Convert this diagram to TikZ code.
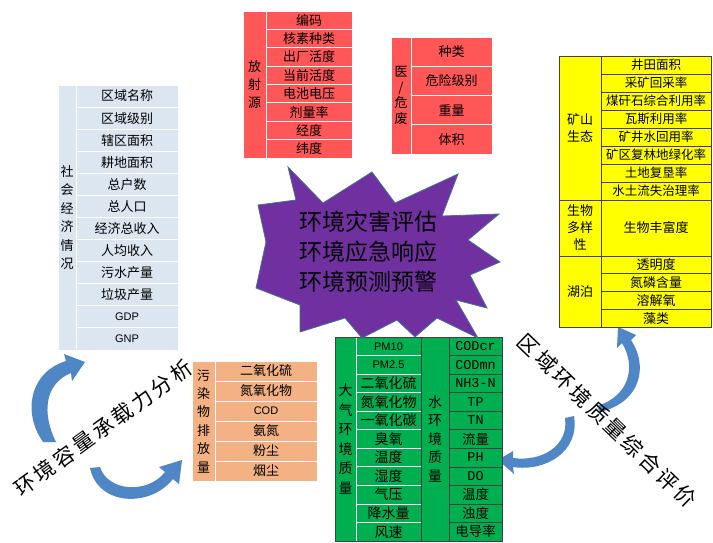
\documentclass[tikz,border=0pt]{standalone}
\usepackage{fontspec}
\setmainfont{Noto Sans CJK SC}
\newfontfamily\latinf{Liberation Sans}
\newfontfamily\monof{Liberation Mono}
\newfontfamily\spacedcjk[LetterSpace=15]{Noto Sans CJK SC}
\definecolor{socfill}{HTML}{DCE6F1}
\definecolor{radfill}{HTML}{FF5757}
\definecolor{minefill}{HTML}{FFFF00}
\definecolor{pollfill}{HTML}{F4B183}
\definecolor{greenfill}{HTML}{00B050}
\definecolor{starfill}{HTML}{7030A0}
\definecolor{starline}{HTML}{41719C}
\definecolor{arrowfill}{HTML}{4F86C6}
\definecolor{gridgray}{HTML}{404040}
\tikzset{
  cell/.style n args={2}{rectangle, anchor=north west, inner sep=0pt, outer sep=0pt,
    minimum width=#1, minimum height=#2, align=center, line width=0.8pt},
  tfont/.style={font=\fontsize{13}{15}\selectfont},
  bluearrow/.style={fill=arrowfill},
  caption/.style={font=\spacedcjk\fontsize{21}{23}\selectfont, inner sep=0pt},
}
\begin{document}
\begin{tikzpicture}[x=1pt,y=-1pt]
\useasboundingbox (0,0) rectangle (713,543);

% ---------- curved arrows ----------
\fill[bluearrow] (43,442) .. controls (22,412) and (30,372) .. (66,361) -- (64,354) -- (85,362) -- (72,381) -- (71,373) .. controls (44,384) and (42,414) .. (56,442) -- cycle;
\fill[bluearrow] (90,468) .. controls (98,506) and (150,508) .. (173,479) -- (179,484) -- (182,460) -- (159,467) -- (165,472) .. controls (148,494) and (108,492) .. (100,467) -- cycle;
\fill[bluearrow] (600,412) .. controls (642,402) and (648,365) .. (631,340) -- (636,335) -- (618,327) -- (617,348) -- (622,343) .. controls (636,366) and (630,396) .. (597,406) -- cycle;
\fill[bluearrow] (574,416) .. controls (580,452) and (545,472) .. (513,467) -- (514,474) -- (498,460) -- (513,451) -- (513,458) .. controls (543,462) and (569,445) .. (565,418) -- cycle;

% ---------- socio-economic table ----------
\node[cell={18pt}{265pt}, fill=socfill, draw=white, font=\fontsize{13}{18.4}\selectfont] (soclabel) at (58,85) {社\\会\\经\\济\\情\\况};
\foreach \txt [count=\i] in {区域名称,区域级别,辖区面积,耕地面积,总户数,总人口,经济总收入,人均收入,污水产量,垃圾产量,{\latinf\fontsize{11}{13}\selectfont GDP},{\latinf\fontsize{11}{13}\selectfont GNP}}
  \node[cell={102pt}{22.08pt}, fill=socfill, draw=white, tfont] (soc\i) at (76,{85+(\i-1)*22.08}) {\txt};

% ---------- radiation source table ----------
\node[cell={23pt}{147pt}, fill=radfill, draw=white, font=\fontsize{13}{18}\selectfont] (radlabel) at (243,11) {放\\射\\源};
\foreach \txt [count=\i] in {编码,核素种类,出厂活度,当前活度,电池电压,剂量率,经度,纬度}
  \node[cell={86pt}{18.375pt}, fill=radfill, draw=white, tfont] (rad\i) at (266,{11+(\i-1)*18.375}) {\txt};

% ---------- medical waste table ----------
\node[cell={20pt}{117pt}, fill=radfill, draw=white, font=\fontsize{13}{15.5}\selectfont] (medlabel) at (391,37) {医\\/\\危\\废};
\foreach \txt [count=\i] in {种类,危险级别,重量,体积}
  \node[cell={81pt}{29.25pt}, fill=radfill, draw=white, tfont] (med\i) at (411,{37+(\i-1)*29.25}) {\txt};

% ---------- mine ecology table ----------
\node[cell={42pt}{144pt}, fill=minefill, draw=gridgray, line width=0.6pt, font=\fontsize{13}{17}\selectfont] (minelabel) at (559,56) {矿山\\生态};
\foreach \txt [count=\i] in {井田面积,采矿回采率,煤矸石综合利用率,瓦斯利用率,矿井水回用率,矿区复林地绿化率,土地复垦率,水土流失治理率}
  \node[cell={110pt}{18pt}, fill=minefill, draw=gridgray, line width=0.6pt, font=\fontsize{12.5}{14}\selectfont] (mine\i) at (601,{56+(\i-1)*18}) {\txt};
\node[cell={42pt}{56pt}, fill=minefill, draw=gridgray, line width=0.6pt, font=\fontsize{13}{17}\selectfont] (biolabel) at (559,200) {生物\\多样\\性};
\node[cell={110pt}{56pt}, fill=minefill, draw=gridgray, line width=0.6pt, tfont] (bio1) at (601,200) {生物丰富度};
\node[cell={42pt}{71pt}, fill=minefill, draw=gridgray, line width=0.6pt, tfont] (lakelabel) at (559,256) {湖泊};
\foreach \txt [count=\i] in {透明度,氮磷含量,溶解氧,藻类}
  \node[cell={110pt}{17.75pt}, fill=minefill, draw=gridgray, line width=0.6pt, tfont] (lake\i) at (601,{256+(\i-1)*17.75}) {\txt};

% ---------- pollutant discharge table ----------
\node[cell={23pt}{120pt}, fill=pollfill, draw=white, font=\fontsize{13}{18.4}\selectfont] (polllabel) at (192,361) {污\\染\\物\\排\\放\\量};
\foreach \txt [count=\i] in {二氧化硫,氮氧化物,{\latinf\fontsize{11}{13}\selectfont COD},氨氮,粉尘,烟尘}
  \node[cell={102pt}{20pt}, fill=pollfill, draw=white, tfont] (poll\i) at (215,{361+(\i-1)*20}) {\txt};

% ---------- air / water table ----------
\node[cell={21pt}{204pt}, fill=greenfill, draw=white, font=\fontsize{14}{19.5}\selectfont] (airlabel) at (335,337) {大\\气\\环\\境\\质\\量};
\foreach \txt [count=\i] in {{\latinf\fontsize{11}{13}\selectfont PM10},{\latinf\fontsize{11}{13}\selectfont PM2.5},二氧化硫,氮氧化物,一氧化碳,臭氧,温度,湿度,气压,降水量,风速}
  \node[cell={65pt}{18.545pt}, fill=greenfill, draw=white, font=\fontsize{14}{16}\selectfont] (air\i) at (356,{337+(\i-1)*18.545}) {\txt};
\node[cell={28pt}{204pt}, fill=greenfill, draw=gridgray, line width=0.6pt, font=\fontsize{14}{18.5}\selectfont] (waterlabel) at (421,337) {水\\环\\境\\质\\量};
\foreach \txt [count=\i] in {{\monof CODcr},{\monof CODmn},{\monof NH3-N},{\monof TP},{\monof TN},流量,{\monof PH},{\monof DO},温度,浊度,电导率}
  \node[cell={53pt}{18.545pt}, fill=greenfill, draw=gridgray, line width=0.6pt, font=\fontsize{13.5}{16}\selectfont] (water\i) at (449,{337+(\i-1)*18.545}) {\txt};
\draw[gridgray, line width=0.6pt] (335,337) rectangle (502,541);

% ---------- central explosion ----------
\filldraw[fill=starfill, draw=starline, line width=0.8pt, line join=miter]
  (288,167) -- (323,203) -- (372,172) -- (395,203) -- (458,174) -- (442,216) -- (499,214) -- (468,240)
  -- (500,262) -- (470,275) -- (487,308) -- (456,300) -- (478,338) -- (437,318) -- (415,337) -- (397,320)
  -- (362,338) -- (345,318) -- (300,332) -- (300,305) -- (256,288) -- (266,242) -- (258,205) -- (296,200) -- cycle;
\node[align=center, font=\fontsize{23}{30}\selectfont] (startext) at (368,252) {环境灾害评估\\环境应急响应\\环境预测预警};

% ---------- diagonal captions ----------
\node[rotate=36, caption] (capacity) at (103,428) {环境容量承载力分析};
\node[rotate=-44, caption] (regional) at (607,421) {区域环境质量综合评价};
\end{tikzpicture}
\end{document}
